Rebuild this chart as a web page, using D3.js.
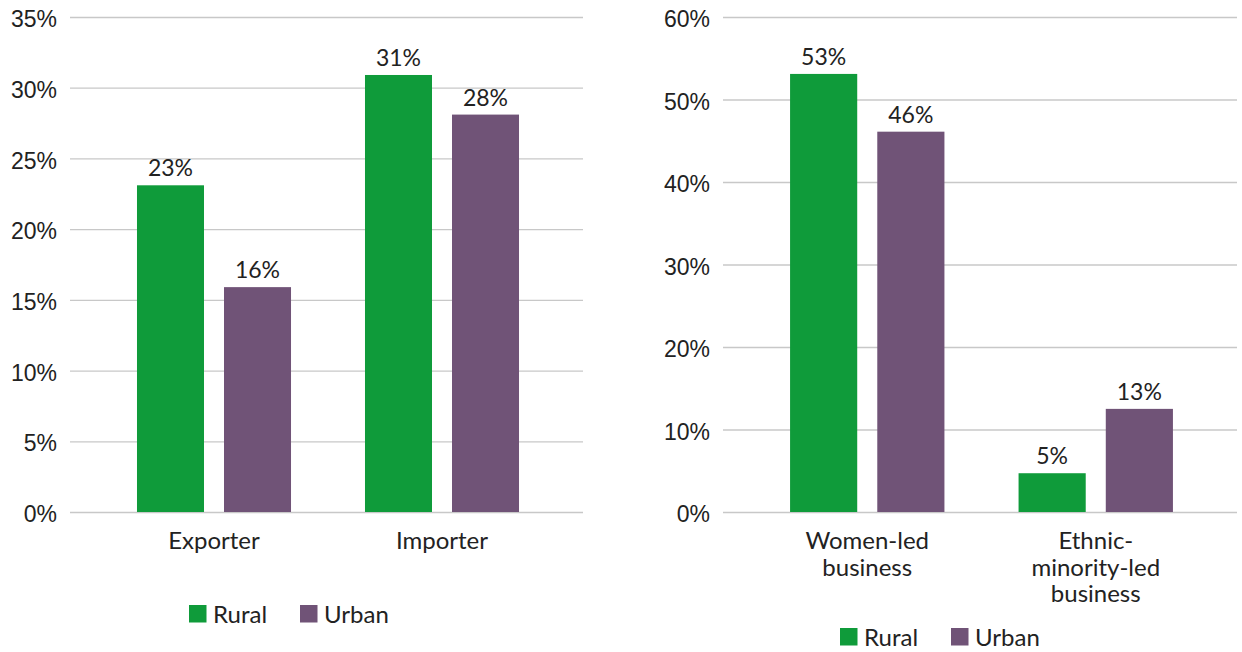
<!DOCTYPE html>
<html>
<head>
<meta charset="utf-8">
<script src="https://cdn.jsdelivr.net/npm/d3@7/dist/d3.min.js"></script>
<style>
  html, body { margin: 0; padding: 0; background: #fff; }
  svg { display: block; font-family: "Lato", "Open Sans", sans-serif; }
  .tick line { stroke: #c8c8c8; stroke-width: 1.3; }
  .tick text { fill: #222; font-size: 23px; }
  .lbl { fill: #222; font-size: 23px; text-anchor: middle; }
  .cat { fill: #222; font-size: 24px; text-anchor: middle; }
</style>
</head>
<body>
<svg id="chart" width="1242" height="652"></svg>
<script>
// Series shared by both panels
const series = ["Rural", "Urban"];
const seriesColors = ["#0f9b3a", "#705377"];

// Left panel: trade activity
const tradeCategories = ["Exporter", "Importer"];
const tradeRural = [23.1, 30.9];
const tradeUrban = [15.9, 28.1];
const tradeTicks = [0, 5, 10, 15, 20, 25, 30, 35];

// Right panel: business leadership
const leadCategories = [["Women-led", "business"], ["Ethnic-", "minority-led", "business"]];
const leadRural = [53.1, 4.7];
const leadUrban = [46.1, 12.5];
const leadTicks = [0, 10, 20, 30, 40, 50, 60];

const svg = d3.select("#chart");
const color = d3.scaleOrdinal().domain(series).range(seriesColors);

function panel(opts) {
  const g = svg.append("g");
  const y = d3.scaleLinear().domain([0, opts.max]).range([512, 17]);

  // gridlines + tick labels
  const axis = d3.axisLeft(y)
    .tickValues(opts.ticks)
    .tickSize(-(opts.gridRight - opts.gridLeft))
    .tickPadding(13)
    .tickFormat(d => d + "%");
  const ag = g.append("g")
    .attr("transform", `translate(${opts.gridLeft},0)`)
    .call(axis);
  ag.select(".domain").remove();
  ag.selectAll(".tick text").attr("dy", "0.42em");

  const names = opts.categories.map(c => Array.isArray(c) ? c.join(" ") : c);
  const x0 = d3.scaleBand().domain(names)
    .range([opts.gridLeft + 30, opts.gridRight - 27]).padding(0);
  const x1 = d3.scaleBand().domain(series)
    .range([0, x0.bandwidth()]).paddingInner(0.23).paddingOuter(0.425);

  const rows = names.map((n, i) => ({
    name: n,
    lines: Array.isArray(opts.categories[i]) ? opts.categories[i] : [opts.categories[i]],
    values: [opts.rural[i], opts.urban[i]]
  }));

  const grp = g.selectAll(".grp").data(rows).join("g")
    .attr("transform", d => `translate(${x0(d.name)},0)`);

  grp.selectAll("rect")
    .data(d => d.values.map((v, k) => ({ s: series[k], v })))
    .join("rect")
    .attr("x", d => x1(d.s))
    .attr("width", x1.bandwidth())
    .attr("y", d => y(d.v))
    .attr("height", d => y(0) - y(d.v))
    .attr("fill", d => color(d.s));

  grp.selectAll(".val")
    .data(d => d.values.map((v, k) => ({ s: series[k], v })))
    .join("text")
    .attr("class", "lbl")
    .attr("x", d => x1(d.s) + x1.bandwidth() / 2)
    .attr("y", d => y(d.v) - 9)
    .text(d => d.v.toFixed(0) + "%");

  // category labels (possibly multi-line)
  grp.append("text")
    .attr("class", "cat")
    .attr("x", x0.bandwidth() / 2)
    .attr("y", 549)
    .selectAll("tspan")
    .data(d => d.lines)
    .join("tspan")
    .attr("x", x0.bandwidth() / 2)
    .attr("dy", (d, i) => i === 0 ? 0 : 26.5)
    .text(d => d);

  // legend
  const lg = g.append("g")
    .attr("transform", `translate(${opts.legendX},${opts.legendY})`);
  const offsets = [0, opts.legendGap];
  series.forEach((s, k) => {
    lg.append("rect")
      .attr("x", offsets[k]).attr("y", -17.5)
      .attr("width", 17.5).attr("height", 17.5)
      .attr("fill", color(s));
    lg.append("text")
      .attr("x", offsets[k] + 24).attr("y", 0)
      .attr("fill", "#222").style("font-size", "24px")
      .text(s);
  });
}

panel({
  categories: tradeCategories, rural: tradeRural, urban: tradeUrban,
  ticks: tradeTicks, max: 35, gridLeft: 70, gridRight: 583,
  legendX: 189, legendY: 622.5, legendGap: 111
});

panel({
  categories: leadCategories, rural: leadRural, urban: leadUrban,
  ticks: leadTicks, max: 60, gridLeft: 723, gridRight: 1237,
  legendX: 840, legendY: 645.5, legendGap: 111
});
</script>
</body>
</html>
